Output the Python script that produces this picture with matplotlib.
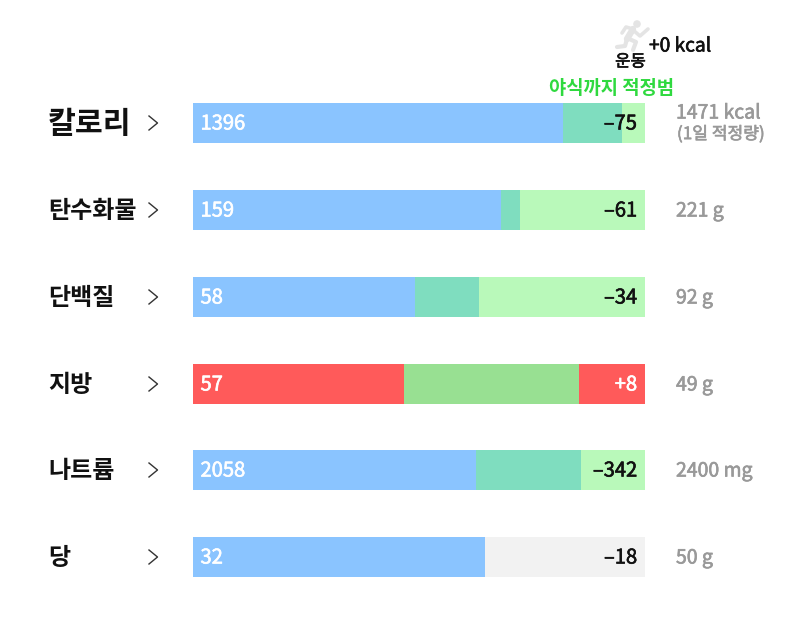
import matplotlib
matplotlib.use("Agg")
import matplotlib.pyplot as plt
import matplotlib.patheffects as pe
from matplotlib.patches import Circle

plt.rcParams['font.family'] = ['Noto Sans CJK KR', 'DejaVu Sans']

W, H = 800, 622

# nutrients, top to bottom
names = ["칼로리", "탄수화물", "단백질", "지방", "나트륨", "당"]
eaten = [1396, 159, 58, 57, 2058, 32]
# end of the recommended band, same unit as the row (None = no band)
band_end = [1618, 168.6, 74.7, 104.2, 2821, None]
# full length of each bar
row_max = [1705, 233, 118, 122, 3287, 49.5]
over_limit = [False, False, False, True, False, False]
remain_labels = ["–75", "–61", "–34", "+8", "–342", "–18"]
goal_labels = ["1471 kcal", "221 g", "92 g", "49 g", "2400 mg", "50 g"]

BLUE = "#8AC4FF"
TEAL = "#7FDDBF"
LIGHT = "#B9F9BA"
RED = "#FF5A5A"
GREEN = "#98E092"
GREY = "#F2F2F2"

bar_left, bar_width, bar_height = 193, 452, 40
bar_tops = [103, 190, 277, 364, 450, 537]


def draw_row(fig, top, value, band, vmax, over):
    """one nutrient bar, in its own axes scaled to the row's range"""
    ax = fig.add_axes([bar_left / W, 1 - (top + bar_height) / H, bar_width / W, bar_height / H])
    ax.set_xlim(0, vmax)
    ax.set_ylim(0, 1)
    ax.axis("off")
    if band is None:
        ax.barh(0.5, value, height=1, color=BLUE)
        ax.barh(0.5, vmax - value, left=value, height=1, color=GREY)
        return
    colors = (RED, GREEN, RED) if over else (BLUE, TEAL, LIGHT)
    ax.barh(0.5, value, height=1, color=colors[0])
    ax.barh(0.5, band - value, left=value, height=1, color=colors[1])
    ax.barh(0.5, vmax - band, left=band, height=1, color=colors[2])


def label(ax, x, y, s, size, color, ha="left"):
    """regular-weight text thickened a little with a thin outline"""
    t = ax.text(x, y, s, fontsize=size, color=color, va="center", ha=ha)
    t.set_path_effects([pe.withStroke(linewidth=0.45, foreground=color)])
    return t


fig = plt.figure(figsize=(8, 6.22), dpi=100, facecolor="white")

for i in range(len(names)):
    draw_row(fig, bar_tops[i], eaten[i], band_end[i], row_max[i], over_limit[i])

# overlay in pixel coordinates for the labels
ov = fig.add_axes([0, 0, 1, 1], facecolor="none")
ov.set_xlim(0, W)
ov.set_ylim(H, 0)
ov.axis("off")

for i, name in enumerate(names):
    mid = bar_tops[i] + bar_height / 2
    size = 21.8 if i == 0 else 17.3
    ov.text(48, mid + 1, name, fontsize=size, fontweight="bold", color="#111111", va="center", ha="left")
    # chevron
    ov.plot([149, 157.5, 149], [mid - 7, mid, mid + 7], color="#333333", lw=1.0)
    label(ov, 200.5, mid + 1, str(eaten[i]), 14.5, "white")
    text_col = "white" if remain_labels[i].startswith("+") else "#111111"
    label(ov, 637, mid + 1, remain_labels[i], 14.5, text_col, ha="right")
    goal_y = mid - 10 if i == 0 else mid + 1
    label(ov, 676, goal_y, goal_labels[i], 14, "#999999")

label(ov, 677, 134, "(1일 적정량)", 12.3, "#999999")
ov.text(611.5, 89, "야식까지 적정범", fontsize=13.5, fontweight="bold", color="#2FD93F", va="center", ha="center")

# runner icon
c = "#E4E4E4"
ov.add_patch(Circle((637, 24), 3.8, color=c, lw=0))
ov.plot([633, 627], [29, 39], color=c, lw=4.6, solid_capstyle="round")
ov.plot([633, 626, 622], [29, 27, 33], color=c, lw=2.6, solid_capstyle="round")
ov.plot([633, 640, 648], [30, 36, 29], color=c, lw=2.6, solid_capstyle="round")
ov.plot([627, 636, 633], [38, 42, 50], color=c, lw=3.0, solid_capstyle="round")
ov.plot([627, 625, 617], [39, 46, 47], color=c, lw=3.0, solid_capstyle="round")

label(ov, 630.5, 62, "운동", 12, "#111111", ha="center")
label(ov, 649, 46, "+0 kcal", 13.8, "#111111")

fig.savefig("out.png", dpi=100, facecolor="white")
plt.close()
